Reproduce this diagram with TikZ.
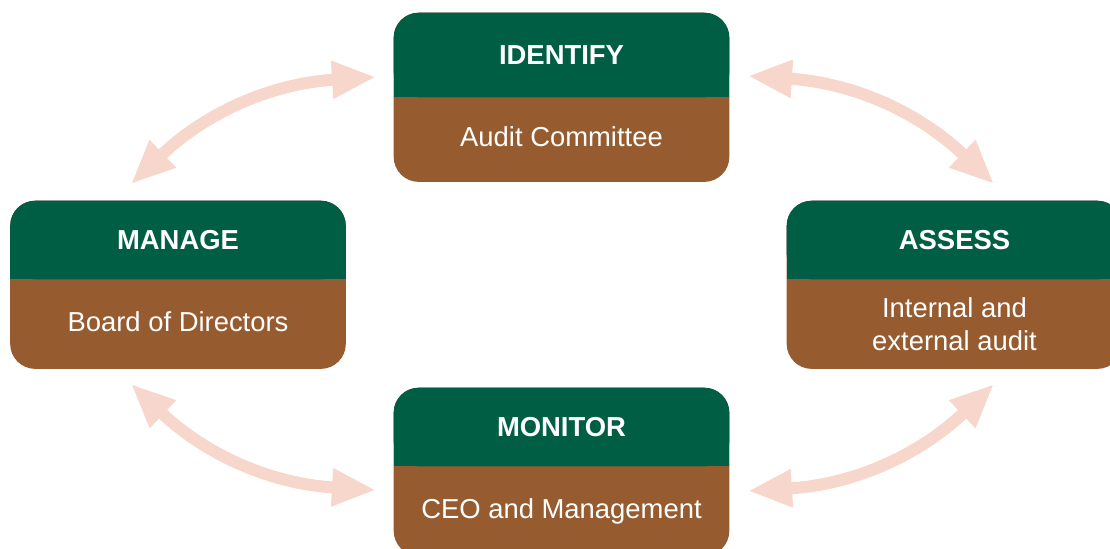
\documentclass[tikz,border=0pt]{standalone}
\usepackage{fontspec}
\setmainfont{Liberation Sans}
\usepackage{tikz}
\usetikzlibrary{positioning, arrows.meta, backgrounds}

\definecolor{headgreen}{RGB}{0,94,68}
\definecolor{bodybrown}{RGB}{150,91,47}
\definecolor{linkpink}{RGB}{247,214,203}

\tikzset{
  head/.style={minimum width=8.375cm, minimum height=1.95cm, inner sep=0pt,
    text=white, font=\fontsize{19.5}{23.5}\selectfont\bfseries},
  body/.style={minimum width=8.375cm, minimum height=2.225cm, inner sep=0pt,
    text=white, align=center, font=\fontsize{19.5}{23.5}\selectfont},
  link/.style={draw=linkpink, line width=0.3cm,
    {Triangle[length=1.1cm,width=0.88cm]}-{Triangle[length=1.1cm,width=0.88cm]}}
}

\begin{document}
\begin{tikzpicture}[x=0.025cm, y=-0.025cm]
  \useasboundingbox (0,0) rectangle (1110,548);

  \node [head, minimum height=2.1cm] (identify) at (561.5,55) {IDENTIFY};  % top stage
  \node [body, below=0pt of identify, minimum height=2.22cm, yshift=0.12cm] (identifyText) {Audit Committee};
  \node [head] (manage) at (178,240) {MANAGE};               % left stage
  \node [body, below=0pt of manage, minimum height=2.325cm, yshift=0.1cm] (manageText) {Board of Directors};
  \node [head] (assess) at (954.5,240) {ASSESS};             % right stage
  \node [body, below=0pt of assess] (assessText) {Internal and\\external audit};
  \node [head] (monitor) at (561.5,427) {MONITOR};           % bottom stage
  \node [body, below=0pt of monitor] (monitorText) {CEO and Management};

  % boxes behind the text
  \begin{scope}[on background layer]
    \clip (0,0) rectangle (1110,548);
    \foreach \s in {identify,manage,assess,monitor} {
      \fill [bodybrown, rounded corners=0.625cm] (\s.north west) rectangle (\s Text.south east);
      \fill [headgreen, rounded corners=0.625cm] (\s.north west) rectangle (\s.south east);
      \fill [headgreen] (\s.west) rectangle (\s.south east);
    }
  \end{scope}

  % free ends of the arrows
  \coordinate (manageUp) at (131,184);
  \coordinate (identifyLeft) at (376,77);
  \coordinate (identifyRight) at (748,76);
  \coordinate (assessUp) at (994,184);
  \coordinate (manageDown) at (131,384);
  \coordinate (monitorLeft) at (376,490);
  \coordinate (monitorRight) at (748,491);
  \coordinate (assessDown) at (994,384);

  \draw [link] (manageUp) to [bend left=20] (identifyLeft);
  \draw [link] (identifyRight) to [bend left=20] (assessUp);
  \draw [link] (manageDown) to [bend right=20] (monitorLeft);
  \draw [link] (monitorRight) to [bend right=20] (assessDown);
\end{tikzpicture}
\end{document}
